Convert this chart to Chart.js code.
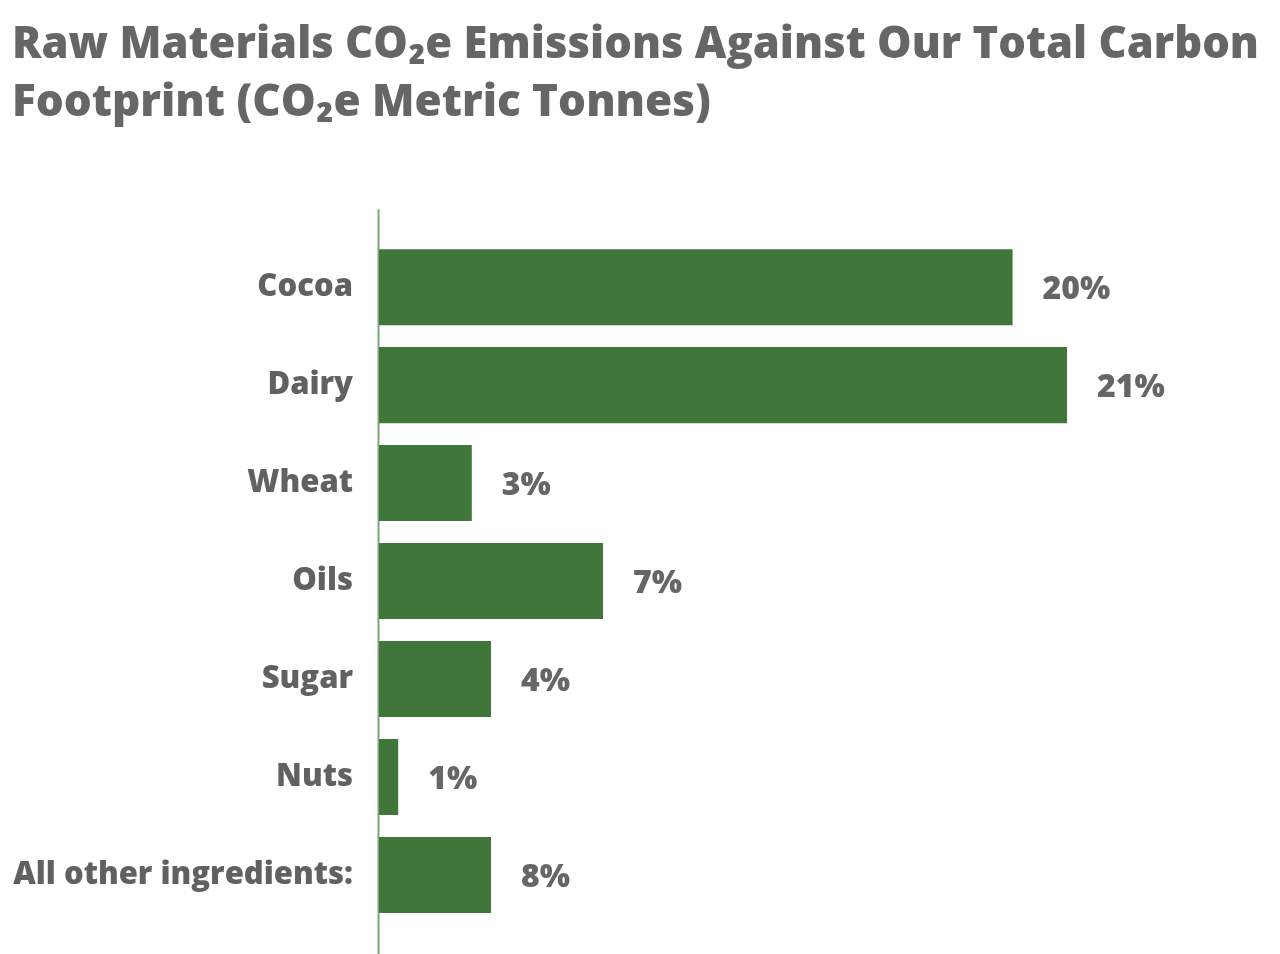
<!DOCTYPE html>
<html>
<head>
<meta charset="utf-8">
<script src="https://cdn.jsdelivr.net/npm/chart.js@4"></script>
<style>
  html, body { margin: 0; padding: 0; background: #fff; }
  #wrap { width: 1280px; height: 954px; }
</style>
</head>
<body>
<div id="wrap"><canvas id="chart"></canvas></div>
<script>
// raw materials, bar lengths (share of footprint, %)
const materials = ["Cocoa", "Dairy", "Wheat", "Oils", "Sugar", "Nuts", "All other ingredients:"];
const emissions = [19.8, 21.5, 2.9, 7.0, 3.5, 0.6, 3.5];
const shareLabels = ["20%", "21%", "3%", "7%", "4%", "1%", "8%"];

const GREEN = "#41763b";
const GREY = "#666666";
const FONT = "'Open Sans'";

// value labels next to each bar
const barLabels = {
  id: "barLabels",
  afterDatasetsDraw(chart) {
    const c = chart.ctx;
    const meta = chart.getDatasetMeta(0);
    c.save();
    c.font = "800 32px " + FONT;
    c.fillStyle = GREY;
    c.textAlign = "left";
    c.textBaseline = "middle";
    meta.data.forEach((bar, i) => {
      c.fillText(shareLabels[i], bar.x + 30, bar.y + 3);
    });
    c.restore();
  },
};

// thin green axis line, runs past the bars top and bottom
const axisLine = {
  id: "axisLine",
  beforeDatasetsDraw(chart) {
    const { left, top, bottom } = chart.chartArea;
    const c = chart.ctx;
    c.save();
    c.strokeStyle = "#7fa77a";
    c.lineWidth = 2;
    c.beginPath();
    c.moveTo(left - 0.5, top - 29);
    c.lineTo(left - 0.5, bottom + 30);
    c.stroke();
    c.restore();
  },
};

const ctx = document.getElementById("chart").getContext("2d");
new Chart(ctx, {
  type: "bar",
  data: {
    labels: materials,
    datasets: [
      {
        data: emissions,
        backgroundColor: GREEN,
        categoryPercentage: 1,
        barPercentage: 0.776,
      },
    ],
  },
  options: {
    indexAxis: "y",
    responsive: true,
    maintainAspectRatio: false,
    animation: false,
    layout: { padding: { left: 12, right: 21, top: 0, bottom: 30 } },
    plugins: {
      legend: { display: false },
      tooltip: { enabled: false },
      title: {
        display: true,
        align: "start",
        text: [
          "Raw Materials CO₂e Emissions Against Our Total Carbon",
          "Footprint (CO₂e Metric Tonnes)",
        ],
        color: GREY,
        font: { family: FONT, size: 44, weight: "800", lineHeight: 1.32 },
        padding: { top: 16, bottom: 106 },
      },
    },
    scales: {
      x: {
        display: false,
        min: 0,
        max: 27.5,
      },
      y: {
        grid: { display: false, drawTicks: false },
        border: { display: false },
        ticks: {
          color: "#616161",
          padding: 26,
          font: { family: FONT, size: 31, weight: "800" },
        },
        afterFit(scale) {
          scale.width = 367;
          // labels are short, no need to keep room above/below the bars
          scale.paddingTop = 0;
          scale.paddingBottom = 0;
        },
      },
    },
  },
  plugins: [axisLine, barLabels],
});
</script>
</body>
</html>
